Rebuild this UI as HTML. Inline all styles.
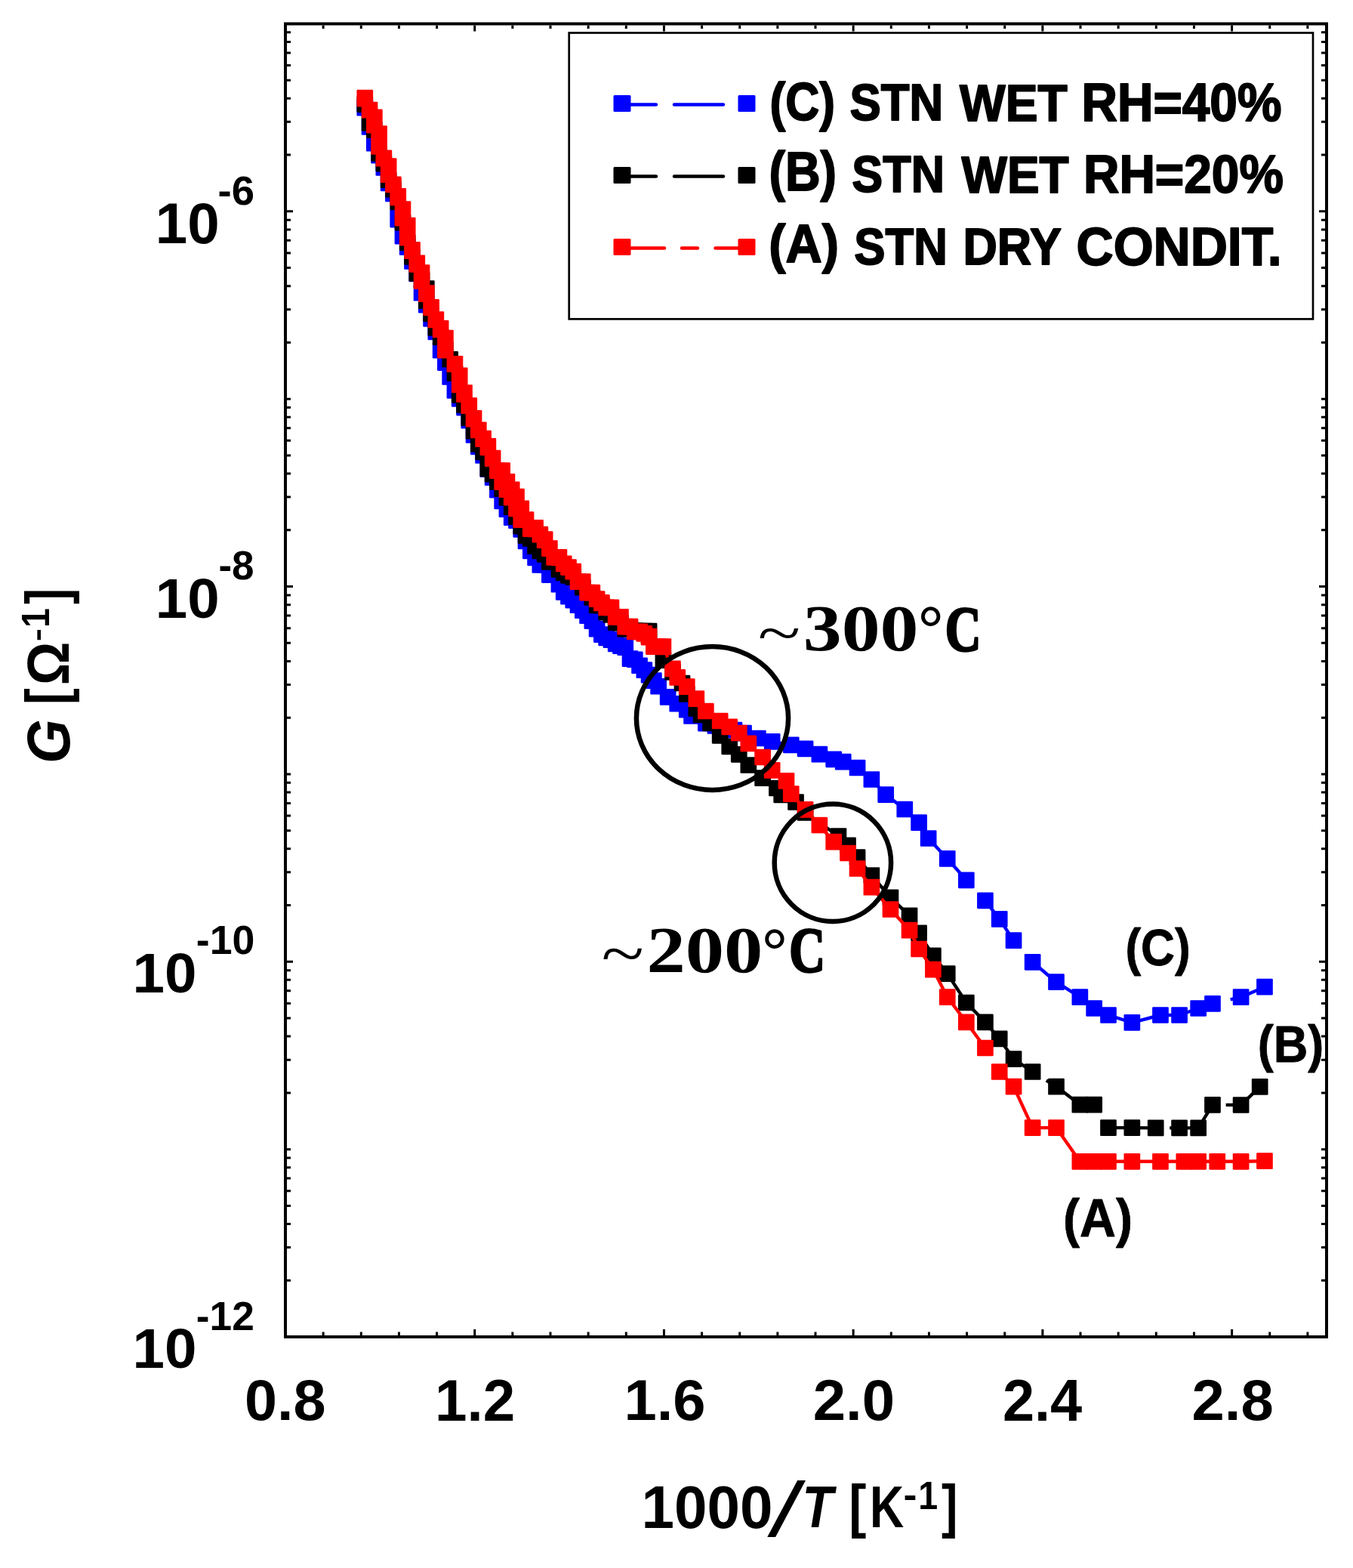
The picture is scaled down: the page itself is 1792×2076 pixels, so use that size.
<!DOCTYPE html>
<html><head><meta charset="utf-8"><title>G vs 1000/T</title>
<style>html,body{margin:0;padding:0;background:#fff}svg{display:block}</style></head>
<body><svg width="1792" height="2076" viewBox="0 0 1792 2076">
<rect width="1792" height="2076" fill="#fff"/>
<path d="M483.28 142.75L489.56 167.85L495.83 189.65L502.10 205.65L508.37 221.95L514.64 242.45L520.92 256.35L520.92 256.35L527.19 288.05L527.19 290.55L533.46 312.65L533.46 312.65L539.73 327.25L539.73 327.25L546.00 345.85L546.00 345.85L552.28 362.45L552.28 362.45L558.55 387.65L558.55 387.65L564.82 403.75L564.82 403.75L571.09 421.85L571.09 421.85L577.36 439.45L577.36 439.45L583.64 463.65L583.64 463.65L589.91 480.25L589.91 480.25L596.18 495.85L596.18 498.85L602.45 514.95L602.45 516.95L608.72 527.95L615.00 539.55L621.27 556.65L627.54 575.85L633.81 591.45L640.08 602.95L646.36 621.15L652.63 632.15L658.90 648.75L665.17 663.35L671.44 674.15L677.72 685.15L683.99 689.15L690.26 700.85L696.53 716.45L702.80 729.45L709.08 738.45L715.35 747.85L721.62 747.85L727.89 761.05L734.16 761.25L740.44 773.65L746.71 783.95L752.98 789.65L759.25 794.55L765.52 801.15L771.80 808.15L778.07 815.15L784.34 822.25L790.61 832.65L796.88 840.05L803.16 844.35L809.43 847.15L815.70 852.35L821.97 855.15L828.24 857.25L834.52 872.15L840.79 873.25L847.06 881.25L853.33 887.15L859.60 893.65L865.88 901.15L872.15 908.75L884.69 922.85L897.24 931.75L909.78 939.65L916.05 947.95L934.87 957.55L947.41 961.00L959.96 963.50L972.50 966.50L985.04 970.70L1003.86 977.50L1022.68 981.80L1047.76 986.30L1066.58 991.30L1085.40 998.60L1104.21 1005.30L1116.76 1008.60L1135.57 1016.50L1154.39 1032.00L1173.20 1052.10L1198.29 1071.50L1217.11 1089.20L1229.65 1110.00L1254.74 1136.90L1279.83 1165.30M1304.92 1192.30M1304.92 1192.30L1323.73 1216.90L1342.55 1245.20M1367.64 1273.80M1367.64 1273.80L1399.00 1300.20L1430.36 1320.20L1449.17 1335.00L1467.99 1344.00L1499.35 1353.80L1536.98 1344.00L1562.07 1344.00L1587.16 1335.00L1605.97 1328.80M1629.68 1323.38L1643.60 1320.20L1674.96 1306.70" fill="none" stroke="#0000ff" stroke-width="4.4" stroke-linejoin="round"/>
<g fill="#0000ff"><rect x="472.43" y="131.90" width="21.7" height="21.70" rx="1.3"/><rect x="478.71" y="157.00" width="21.7" height="21.70" rx="1.3"/><rect x="484.98" y="178.80" width="21.7" height="21.70" rx="1.3"/><rect x="491.25" y="194.80" width="21.7" height="21.70" rx="1.3"/><rect x="497.52" y="211.10" width="21.7" height="21.70" rx="1.3"/><rect x="503.79" y="231.60" width="21.7" height="21.70" rx="1.3"/><rect x="510.07" y="245.50" width="21.7" height="21.70" rx="1.3"/><rect x="516.34" y="277.20" width="21.7" height="24.20" rx="1.3"/><rect x="522.61" y="301.80" width="21.7" height="21.70" rx="1.3"/><rect x="528.88" y="316.40" width="21.7" height="21.70" rx="1.3"/><rect x="535.15" y="335.00" width="21.7" height="21.70" rx="1.3"/><rect x="541.43" y="351.60" width="21.7" height="21.70" rx="1.3"/><rect x="547.70" y="376.80" width="21.7" height="21.70" rx="1.3"/><rect x="553.97" y="392.90" width="21.7" height="21.70" rx="1.3"/><rect x="560.24" y="411.00" width="21.7" height="21.70" rx="1.3"/><rect x="566.51" y="428.60" width="21.7" height="21.70" rx="1.3"/><rect x="572.79" y="452.80" width="21.7" height="21.70" rx="1.3"/><rect x="579.06" y="469.40" width="21.7" height="21.70" rx="1.3"/><rect x="585.33" y="485.00" width="21.7" height="24.70" rx="1.3"/><rect x="591.60" y="504.10" width="21.7" height="23.70" rx="1.3"/><rect x="597.87" y="517.10" width="21.7" height="21.70" rx="1.3"/><rect x="604.15" y="528.70" width="21.7" height="21.70" rx="1.3"/><rect x="610.42" y="545.80" width="21.7" height="21.70" rx="1.3"/><rect x="616.69" y="565.00" width="21.7" height="21.70" rx="1.3"/><rect x="622.96" y="580.60" width="21.7" height="21.70" rx="1.3"/><rect x="629.23" y="592.10" width="21.7" height="21.70" rx="1.3"/><rect x="635.51" y="610.30" width="21.7" height="21.70" rx="1.3"/><rect x="641.78" y="621.30" width="21.7" height="21.70" rx="1.3"/><rect x="648.05" y="637.90" width="21.7" height="21.70" rx="1.3"/><rect x="654.32" y="652.50" width="21.7" height="21.70" rx="1.3"/><rect x="660.59" y="663.30" width="21.7" height="21.70" rx="1.3"/><rect x="666.87" y="674.30" width="21.7" height="21.70" rx="1.3"/><rect x="673.14" y="678.30" width="21.7" height="21.70" rx="1.3"/><rect x="679.41" y="690.00" width="21.7" height="21.70" rx="1.3"/><rect x="685.68" y="705.60" width="21.7" height="21.70" rx="1.3"/><rect x="691.95" y="718.60" width="21.7" height="21.70" rx="1.3"/><rect x="698.23" y="727.60" width="21.7" height="21.70" rx="1.3"/><rect x="704.50" y="737.00" width="21.7" height="21.70" rx="1.3"/><rect x="710.77" y="737.00" width="21.7" height="21.70" rx="1.3"/><rect x="717.04" y="750.20" width="21.7" height="21.70" rx="1.3"/><rect x="723.31" y="750.40" width="21.7" height="21.70" rx="1.3"/><rect x="729.59" y="762.80" width="21.7" height="21.70" rx="1.3"/><rect x="735.86" y="773.10" width="21.7" height="21.70" rx="1.3"/><rect x="742.13" y="778.80" width="21.7" height="21.70" rx="1.3"/><rect x="748.40" y="783.70" width="21.7" height="21.70" rx="1.3"/><rect x="754.67" y="790.30" width="21.7" height="21.70" rx="1.3"/><rect x="760.95" y="797.30" width="21.7" height="21.70" rx="1.3"/><rect x="767.22" y="804.30" width="21.7" height="21.70" rx="1.3"/><rect x="773.49" y="811.40" width="21.7" height="21.70" rx="1.3"/><rect x="779.76" y="821.80" width="21.7" height="21.70" rx="1.3"/><rect x="786.03" y="829.20" width="21.7" height="21.70" rx="1.3"/><rect x="792.31" y="833.50" width="21.7" height="21.70" rx="1.3"/><rect x="798.58" y="836.30" width="21.7" height="21.70" rx="1.3"/><rect x="804.85" y="841.50" width="21.7" height="21.70" rx="1.3"/><rect x="811.12" y="844.30" width="21.7" height="21.70" rx="1.3"/><rect x="817.39" y="846.40" width="21.7" height="21.70" rx="1.3"/><rect x="823.67" y="861.30" width="21.7" height="21.70" rx="1.3"/><rect x="829.94" y="862.40" width="21.7" height="21.70" rx="1.3"/><rect x="836.21" y="870.40" width="21.7" height="21.70" rx="1.3"/><rect x="842.48" y="876.30" width="21.7" height="21.70" rx="1.3"/><rect x="848.75" y="882.80" width="21.7" height="21.70" rx="1.3"/><rect x="855.03" y="890.30" width="21.7" height="21.70" rx="1.3"/><rect x="861.30" y="897.90" width="21.7" height="21.70" rx="1.3"/><rect x="873.84" y="912.00" width="21.7" height="21.70" rx="1.3"/><rect x="886.39" y="920.90" width="21.7" height="21.70" rx="1.3"/><rect x="898.93" y="928.80" width="21.7" height="21.70" rx="1.3"/><rect x="905.20" y="937.10" width="21.7" height="21.70" rx="1.3"/><rect x="924.02" y="946.70" width="21.7" height="21.70" rx="1.3"/><rect x="936.56" y="950.15" width="21.7" height="21.70" rx="1.3"/><rect x="949.11" y="952.65" width="21.7" height="21.70" rx="1.3"/><rect x="961.65" y="955.65" width="21.7" height="21.70" rx="1.3"/><rect x="974.19" y="959.85" width="21.7" height="21.70" rx="1.3"/><rect x="993.01" y="966.65" width="21.7" height="21.70" rx="1.3"/><rect x="1011.83" y="970.95" width="21.7" height="21.70" rx="1.3"/><rect x="1036.91" y="975.45" width="21.7" height="21.70" rx="1.3"/><rect x="1055.73" y="980.45" width="21.7" height="21.70" rx="1.3"/><rect x="1074.55" y="987.75" width="21.7" height="21.70" rx="1.3"/><rect x="1093.36" y="994.45" width="21.7" height="21.70" rx="1.3"/><rect x="1105.91" y="997.75" width="21.7" height="21.70" rx="1.3"/><rect x="1124.72" y="1005.65" width="21.7" height="21.70" rx="1.3"/><rect x="1143.54" y="1021.15" width="21.7" height="21.70" rx="1.3"/><rect x="1162.35" y="1041.25" width="21.7" height="21.70" rx="1.3"/><rect x="1187.44" y="1060.65" width="21.7" height="21.70" rx="1.3"/><rect x="1206.26" y="1078.35" width="21.7" height="21.70" rx="1.3"/><rect x="1218.80" y="1099.15" width="21.7" height="21.70" rx="1.3"/><rect x="1243.89" y="1126.05" width="21.7" height="21.70" rx="1.3"/><rect x="1268.98" y="1154.45" width="21.7" height="21.70" rx="1.3"/><rect x="1294.07" y="1181.45" width="21.7" height="21.70" rx="1.3"/><rect x="1312.88" y="1206.05" width="21.7" height="21.70" rx="1.3"/><rect x="1331.70" y="1234.35" width="21.7" height="21.70" rx="1.3"/><rect x="1356.79" y="1262.95" width="21.7" height="21.70" rx="1.3"/><rect x="1388.15" y="1289.35" width="21.7" height="21.70" rx="1.3"/><rect x="1419.51" y="1309.35" width="21.7" height="21.70" rx="1.3"/><rect x="1438.32" y="1324.15" width="21.7" height="21.70" rx="1.3"/><rect x="1457.14" y="1333.15" width="21.7" height="21.70" rx="1.3"/><rect x="1488.50" y="1342.95" width="21.7" height="21.70" rx="1.3"/><rect x="1526.13" y="1333.15" width="21.7" height="21.70" rx="1.3"/><rect x="1551.22" y="1333.15" width="21.7" height="21.70" rx="1.3"/><rect x="1576.31" y="1324.15" width="21.7" height="21.70" rx="1.3"/><rect x="1595.12" y="1317.95" width="21.7" height="21.70" rx="1.3"/><rect x="1632.75" y="1309.35" width="21.7" height="21.70" rx="1.3"/><rect x="1664.11" y="1295.85" width="21.7" height="21.70" rx="1.3"/></g>
<path d="M483.28 138.15L489.56 162.85L495.83 172.15L502.10 203.15L508.37 216.55L514.64 238.25L520.92 250.75L527.19 267.35L527.19 267.35L533.46 294.55L533.46 294.55L539.73 321.25L539.73 321.25L546.00 339.85L546.00 339.85L552.28 361.95L552.28 361.95L558.55 371.15L558.55 371.15L564.82 382.15L564.82 398.15L571.09 415.35L571.09 415.35L577.36 433.95L577.36 433.95L583.64 446.45L583.64 446.45L589.91 463.15L589.91 463.15L596.18 475.75L596.18 475.75L602.45 494.25L602.45 494.25L608.72 522.95L615.00 536.05L621.27 553.15L627.54 570.75L633.81 587.85L640.08 598.45L646.36 613.15L646.36 620.55L652.63 627.65L658.90 638.15L665.17 647.25L671.44 658.85L677.72 671.15L683.99 684.15L690.26 696.65L696.53 708.85L696.53 709.15L702.80 712.95L709.08 721.05L709.08 723.25L715.35 727.75L715.35 729.35L721.62 733.85L727.89 743.95L734.16 743.95L740.44 753.95L746.71 758.45L752.98 761.85L759.25 764.05L771.80 777.75L784.34 790.85L790.61 801.35L796.88 801.35L803.16 810.55L809.43 813.85L815.70 824.15L821.97 824.95L828.24 832.65L834.52 832.95L840.79 835.15L847.06 835.55L853.33 835.55L853.33 837.15L859.60 835.55L859.60 842.15L878.42 874.15L890.96 889.90L903.51 904.50L909.78 919.00L922.32 938.00L928.60 946.50L941.14 957.50L953.68 973.80L966.23 988.30L978.77 998.80L991.32 1013.00L1010.13 1030.10L1028.95 1043.50L1035.22 1052.50L1054.04 1062.00L1066.58 1076.00L1110.48 1107.00L1123.03 1119.40L1135.57 1135.00L1154.39 1159.00L1179.48 1188.30L1204.56 1212.40L1217.11 1235.30L1235.92 1265.40L1254.74 1289.20L1279.83 1327.50L1304.92 1353.40L1323.73 1375.40L1342.55 1402.10L1367.64 1419.00M1385.82 1430.37L1399.00 1438.60L1430.36 1462.60L1449.17 1462.60M1467.99 1493.10M1467.99 1493.10L1499.35 1493.10L1530.71 1493.40M1549.21 1493.40L1562.07 1493.40L1587.16 1493.40L1605.97 1462.80M1623.66 1462.89L1643.60 1463.00L1668.69 1438.90" fill="none" stroke="#000000" stroke-width="4.4" stroke-linejoin="round"/>
<g fill="#000000"><rect x="472.43" y="127.30" width="21.7" height="21.70" rx="1.3"/><rect x="478.71" y="152.00" width="21.7" height="21.70" rx="1.3"/><rect x="484.98" y="161.30" width="21.7" height="21.70" rx="1.3"/><rect x="491.25" y="192.30" width="21.7" height="21.70" rx="1.3"/><rect x="497.52" y="205.70" width="21.7" height="21.70" rx="1.3"/><rect x="503.79" y="227.40" width="21.7" height="21.70" rx="1.3"/><rect x="510.07" y="239.90" width="21.7" height="21.70" rx="1.3"/><rect x="516.34" y="256.50" width="21.7" height="21.70" rx="1.3"/><rect x="522.61" y="283.70" width="21.7" height="21.70" rx="1.3"/><rect x="528.88" y="310.40" width="21.7" height="21.70" rx="1.3"/><rect x="535.15" y="329.00" width="21.7" height="21.70" rx="1.3"/><rect x="541.43" y="351.10" width="21.7" height="21.70" rx="1.3"/><rect x="547.70" y="360.30" width="21.7" height="21.70" rx="1.3"/><rect x="553.97" y="371.30" width="21.7" height="37.70" rx="1.3"/><rect x="560.24" y="404.50" width="21.7" height="21.70" rx="1.3"/><rect x="566.51" y="423.10" width="21.7" height="21.70" rx="1.3"/><rect x="572.79" y="435.60" width="21.7" height="21.70" rx="1.3"/><rect x="579.06" y="452.30" width="21.7" height="21.70" rx="1.3"/><rect x="585.33" y="464.90" width="21.7" height="21.70" rx="1.3"/><rect x="591.60" y="483.40" width="21.7" height="21.70" rx="1.3"/><rect x="597.87" y="512.10" width="21.7" height="21.70" rx="1.3"/><rect x="604.15" y="525.20" width="21.7" height="21.70" rx="1.3"/><rect x="610.42" y="542.30" width="21.7" height="21.70" rx="1.3"/><rect x="616.69" y="559.90" width="21.7" height="21.70" rx="1.3"/><rect x="622.96" y="577.00" width="21.7" height="21.70" rx="1.3"/><rect x="629.23" y="587.60" width="21.7" height="21.70" rx="1.3"/><rect x="635.51" y="602.30" width="21.7" height="29.10" rx="1.3"/><rect x="641.78" y="616.80" width="21.7" height="21.70" rx="1.3"/><rect x="648.05" y="627.30" width="21.7" height="21.70" rx="1.3"/><rect x="654.32" y="636.40" width="21.7" height="21.70" rx="1.3"/><rect x="660.59" y="648.00" width="21.7" height="21.70" rx="1.3"/><rect x="666.87" y="660.30" width="21.7" height="21.70" rx="1.3"/><rect x="673.14" y="673.30" width="21.7" height="21.70" rx="1.3"/><rect x="679.41" y="685.80" width="21.7" height="21.70" rx="1.3"/><rect x="685.68" y="698.00" width="21.7" height="22.00" rx="1.3"/><rect x="691.95" y="702.10" width="21.7" height="21.70" rx="1.3"/><rect x="698.23" y="710.20" width="21.7" height="23.90" rx="1.3"/><rect x="704.50" y="716.90" width="21.7" height="23.30" rx="1.3"/><rect x="710.77" y="723.00" width="21.7" height="21.70" rx="1.3"/><rect x="717.04" y="733.10" width="21.7" height="21.70" rx="1.3"/><rect x="723.31" y="733.10" width="21.7" height="21.70" rx="1.3"/><rect x="729.59" y="743.10" width="21.7" height="21.70" rx="1.3"/><rect x="735.86" y="747.60" width="21.7" height="21.70" rx="1.3"/><rect x="742.13" y="751.00" width="21.7" height="21.70" rx="1.3"/><rect x="748.40" y="753.20" width="21.7" height="21.70" rx="1.3"/><rect x="760.95" y="766.90" width="21.7" height="21.70" rx="1.3"/><rect x="773.49" y="780.00" width="21.7" height="21.70" rx="1.3"/><rect x="779.76" y="790.50" width="21.7" height="21.70" rx="1.3"/><rect x="786.03" y="790.50" width="21.7" height="21.70" rx="1.3"/><rect x="792.31" y="799.70" width="21.7" height="21.70" rx="1.3"/><rect x="798.58" y="803.00" width="21.7" height="21.70" rx="1.3"/><rect x="804.85" y="813.30" width="21.7" height="21.70" rx="1.3"/><rect x="811.12" y="814.10" width="21.7" height="21.70" rx="1.3"/><rect x="817.39" y="821.80" width="21.7" height="21.70" rx="1.3"/><rect x="823.67" y="822.10" width="21.7" height="21.70" rx="1.3"/><rect x="829.94" y="824.30" width="21.7" height="21.70" rx="1.3"/><rect x="836.21" y="824.70" width="21.7" height="21.70" rx="1.3"/><rect x="842.48" y="824.70" width="21.7" height="23.30" rx="1.3"/><rect x="848.75" y="824.70" width="21.7" height="28.30" rx="1.3"/><rect x="867.57" y="863.30" width="21.7" height="21.70" rx="1.3"/><rect x="880.11" y="879.05" width="21.7" height="21.70" rx="1.3"/><rect x="892.66" y="893.65" width="21.7" height="21.70" rx="1.3"/><rect x="898.93" y="908.15" width="21.7" height="21.70" rx="1.3"/><rect x="911.47" y="927.15" width="21.7" height="21.70" rx="1.3"/><rect x="917.75" y="935.65" width="21.7" height="21.70" rx="1.3"/><rect x="930.29" y="946.65" width="21.7" height="21.70" rx="1.3"/><rect x="942.83" y="962.95" width="21.7" height="21.70" rx="1.3"/><rect x="955.38" y="977.45" width="21.7" height="21.70" rx="1.3"/><rect x="967.92" y="987.95" width="21.7" height="21.70" rx="1.3"/><rect x="980.47" y="1002.15" width="21.7" height="21.70" rx="1.3"/><rect x="999.28" y="1019.25" width="21.7" height="21.70" rx="1.3"/><rect x="1018.10" y="1032.65" width="21.7" height="21.70" rx="1.3"/><rect x="1024.37" y="1041.65" width="21.7" height="21.70" rx="1.3"/><rect x="1043.19" y="1051.15" width="21.7" height="21.70" rx="1.3"/><rect x="1055.73" y="1065.15" width="21.7" height="21.70" rx="1.3"/><rect x="1099.63" y="1096.15" width="21.7" height="21.70" rx="1.3"/><rect x="1112.18" y="1108.55" width="21.7" height="21.70" rx="1.3"/><rect x="1124.72" y="1124.15" width="21.7" height="21.70" rx="1.3"/><rect x="1143.54" y="1148.15" width="21.7" height="21.70" rx="1.3"/><rect x="1168.63" y="1177.45" width="21.7" height="21.70" rx="1.3"/><rect x="1193.71" y="1201.55" width="21.7" height="21.70" rx="1.3"/><rect x="1206.26" y="1224.45" width="21.7" height="21.70" rx="1.3"/><rect x="1225.07" y="1254.55" width="21.7" height="21.70" rx="1.3"/><rect x="1243.89" y="1278.35" width="21.7" height="21.70" rx="1.3"/><rect x="1268.98" y="1316.65" width="21.7" height="21.70" rx="1.3"/><rect x="1294.07" y="1342.55" width="21.7" height="21.70" rx="1.3"/><rect x="1312.88" y="1364.55" width="21.7" height="21.70" rx="1.3"/><rect x="1331.70" y="1391.25" width="21.7" height="21.70" rx="1.3"/><rect x="1356.79" y="1408.15" width="21.7" height="21.70" rx="1.3"/><rect x="1388.15" y="1427.75" width="21.7" height="21.70" rx="1.3"/><rect x="1419.51" y="1451.75" width="21.7" height="21.70" rx="1.3"/><rect x="1438.32" y="1451.75" width="21.7" height="21.70" rx="1.3"/><rect x="1457.14" y="1482.25" width="21.7" height="21.70" rx="1.3"/><rect x="1488.50" y="1482.25" width="21.7" height="21.70" rx="1.3"/><rect x="1519.86" y="1482.55" width="21.7" height="21.70" rx="1.3"/><rect x="1551.22" y="1482.55" width="21.7" height="21.70" rx="1.3"/><rect x="1576.31" y="1482.55" width="21.7" height="21.70" rx="1.3"/><rect x="1595.12" y="1451.95" width="21.7" height="21.70" rx="1.3"/><rect x="1632.75" y="1452.15" width="21.7" height="21.70" rx="1.3"/><rect x="1657.84" y="1428.05" width="21.7" height="21.70" rx="1.3"/></g>
<path d="M483.28 129.65L483.28 130.55L489.56 145.55L489.56 145.65L495.83 155.25L495.83 165.75L502.10 177.05L502.10 193.85L508.37 209.25L508.37 209.75L514.64 220.15L514.64 231.15L520.92 244.45L527.19 259.95L527.19 261.35L533.46 277.05L533.46 288.55L539.73 298.65L539.73 314.65L546.00 330.85L546.00 332.25L552.28 348.45L552.28 349.85L558.55 361.05L558.55 372.05L564.82 388.15L564.82 389.15L571.09 406.85L571.09 407.25L577.36 423.15L577.36 423.35L583.64 434.95L583.64 436.45L589.91 447.55L589.91 463.65L602.45 481.75L602.45 482.15L608.72 497.35L608.72 509.35L615.00 520.05L615.00 521.95L621.27 537.15L627.54 553.75L627.54 554.65L633.81 569.35L640.08 580.65L640.08 581.15L646.36 590.95L646.36 592.45L652.63 606.55L652.63 607.05L658.90 623.15L665.17 623.15L665.17 638.15L671.44 637.75L671.44 648.15L677.72 648.35L677.72 658.75L683.99 657.55L683.99 673.35L690.26 673.25L690.26 688.15L696.53 688.05L696.53 688.15L702.80 698.95L702.80 700.15L709.08 698.95L709.08 700.35L715.35 707.55L721.62 714.05L721.62 715.15L727.89 726.05L734.16 737.95L740.44 737.95L740.44 738.35L746.71 746.35L752.98 751.05L759.25 756.65L759.25 756.75L765.52 770.15L771.80 770.15L778.07 784.65L784.34 784.65L790.61 793.05L796.88 797.85L796.88 798.45L803.16 804.35L809.43 804.35L809.43 804.45L815.70 816.85L821.97 816.85L821.97 817.25L828.24 829.65L834.52 829.65L840.79 836.35L847.06 836.35L853.33 838.85L859.60 842.65L859.60 843.75L865.88 856.05L872.15 856.05L878.42 856.05L878.42 856.45L890.96 885.30L897.24 896.90L909.78 909.20L922.32 925.10L934.87 941.50L953.68 954.50L966.23 962.30L978.77 970.50L991.32 984.30L1010.13 1002.50L1022.68 1019.80L1041.49 1033.80L1047.76 1051.10L1066.58 1071.80L1085.40 1092.50L1104.21 1114.60L1123.03 1129.50L1135.57 1150.00L1154.39 1174.60L1179.48 1204.00L1204.56 1231.60L1217.11 1256.50L1235.92 1283.60L1254.74 1320.20L1279.83 1353.40L1304.92 1387.50M1323.73 1419.00M1323.73 1419.00L1342.55 1438.60L1367.64 1493.10L1399.00 1493.10L1430.36 1537.80L1449.17 1537.80L1467.99 1537.80L1499.35 1537.80L1536.98 1537.80L1568.34 1537.80L1587.16 1537.80L1612.24 1537.80L1643.60 1537.80L1674.96 1537.20" fill="none" stroke="#ff0000" stroke-width="4.4" stroke-linejoin="round"/>
<g fill="#ff0000"><rect x="472.43" y="118.80" width="21.7" height="22.60" rx="1.3"/><rect x="478.71" y="134.70" width="21.7" height="21.80" rx="1.3"/><rect x="484.98" y="144.40" width="21.7" height="32.20" rx="1.3"/><rect x="491.25" y="166.20" width="21.7" height="38.50" rx="1.3"/><rect x="497.52" y="198.40" width="21.7" height="22.20" rx="1.3"/><rect x="503.79" y="209.30" width="21.7" height="32.70" rx="1.3"/><rect x="510.07" y="233.60" width="21.7" height="21.70" rx="1.3"/><rect x="516.34" y="249.10" width="21.7" height="23.10" rx="1.3"/><rect x="522.61" y="266.20" width="21.7" height="33.20" rx="1.3"/><rect x="528.88" y="287.80" width="21.7" height="37.70" rx="1.3"/><rect x="535.15" y="320.00" width="21.7" height="23.10" rx="1.3"/><rect x="541.43" y="337.60" width="21.7" height="23.10" rx="1.3"/><rect x="547.70" y="350.20" width="21.7" height="32.70" rx="1.3"/><rect x="553.97" y="377.30" width="21.7" height="22.70" rx="1.3"/><rect x="560.24" y="396.00" width="21.7" height="22.10" rx="1.3"/><rect x="566.51" y="412.30" width="21.7" height="21.90" rx="1.3"/><rect x="572.79" y="424.10" width="21.7" height="23.20" rx="1.3"/><rect x="579.06" y="436.70" width="21.7" height="37.80" rx="1.3"/><rect x="591.60" y="470.90" width="21.7" height="22.10" rx="1.3"/><rect x="597.87" y="486.50" width="21.7" height="33.70" rx="1.3"/><rect x="604.15" y="509.20" width="21.7" height="23.60" rx="1.3"/><rect x="610.42" y="526.30" width="21.7" height="21.70" rx="1.3"/><rect x="616.69" y="542.90" width="21.7" height="22.60" rx="1.3"/><rect x="622.96" y="558.50" width="21.7" height="21.70" rx="1.3"/><rect x="629.23" y="569.80" width="21.7" height="22.20" rx="1.3"/><rect x="635.51" y="580.10" width="21.7" height="23.20" rx="1.3"/><rect x="641.78" y="595.70" width="21.7" height="22.20" rx="1.3"/><rect x="648.05" y="612.30" width="21.7" height="21.70" rx="1.3"/><rect x="654.32" y="612.30" width="21.7" height="36.70" rx="1.3"/><rect x="660.59" y="626.90" width="21.7" height="32.10" rx="1.3"/><rect x="666.87" y="637.50" width="21.7" height="32.10" rx="1.3"/><rect x="673.14" y="646.70" width="21.7" height="37.50" rx="1.3"/><rect x="679.41" y="662.40" width="21.7" height="36.60" rx="1.3"/><rect x="685.68" y="677.20" width="21.7" height="21.80" rx="1.3"/><rect x="691.95" y="688.10" width="21.7" height="22.90" rx="1.3"/><rect x="698.23" y="688.10" width="21.7" height="23.10" rx="1.3"/><rect x="704.50" y="696.70" width="21.7" height="21.70" rx="1.3"/><rect x="710.77" y="703.20" width="21.7" height="22.80" rx="1.3"/><rect x="717.04" y="715.20" width="21.7" height="21.70" rx="1.3"/><rect x="723.31" y="727.10" width="21.7" height="21.70" rx="1.3"/><rect x="729.59" y="727.10" width="21.7" height="22.10" rx="1.3"/><rect x="735.86" y="735.50" width="21.7" height="21.70" rx="1.3"/><rect x="742.13" y="740.20" width="21.7" height="21.70" rx="1.3"/><rect x="748.40" y="745.80" width="21.7" height="21.80" rx="1.3"/><rect x="754.67" y="759.30" width="21.7" height="21.70" rx="1.3"/><rect x="760.95" y="759.30" width="21.7" height="21.70" rx="1.3"/><rect x="767.22" y="773.80" width="21.7" height="21.70" rx="1.3"/><rect x="773.49" y="773.80" width="21.7" height="21.70" rx="1.3"/><rect x="779.76" y="782.20" width="21.7" height="21.70" rx="1.3"/><rect x="786.03" y="787.00" width="21.7" height="22.30" rx="1.3"/><rect x="792.31" y="793.50" width="21.7" height="21.70" rx="1.3"/><rect x="798.58" y="793.50" width="21.7" height="21.80" rx="1.3"/><rect x="804.85" y="806.00" width="21.7" height="21.70" rx="1.3"/><rect x="811.12" y="806.00" width="21.7" height="22.10" rx="1.3"/><rect x="817.39" y="818.80" width="21.7" height="21.70" rx="1.3"/><rect x="823.67" y="818.80" width="21.7" height="21.70" rx="1.3"/><rect x="829.94" y="825.50" width="21.7" height="21.70" rx="1.3"/><rect x="836.21" y="825.50" width="21.7" height="21.70" rx="1.3"/><rect x="842.48" y="828.00" width="21.7" height="21.70" rx="1.3"/><rect x="848.75" y="831.80" width="21.7" height="22.80" rx="1.3"/><rect x="855.03" y="845.20" width="21.7" height="21.70" rx="1.3"/><rect x="861.30" y="845.20" width="21.7" height="21.70" rx="1.3"/><rect x="867.57" y="845.20" width="21.7" height="22.10" rx="1.3"/><rect x="880.11" y="874.45" width="21.7" height="21.70" rx="1.3"/><rect x="886.39" y="886.05" width="21.7" height="21.70" rx="1.3"/><rect x="898.93" y="898.35" width="21.7" height="21.70" rx="1.3"/><rect x="911.47" y="914.25" width="21.7" height="21.70" rx="1.3"/><rect x="924.02" y="930.65" width="21.7" height="21.70" rx="1.3"/><rect x="942.83" y="943.65" width="21.7" height="21.70" rx="1.3"/><rect x="955.38" y="951.45" width="21.7" height="21.70" rx="1.3"/><rect x="967.92" y="959.65" width="21.7" height="21.70" rx="1.3"/><rect x="980.47" y="973.45" width="21.7" height="21.70" rx="1.3"/><rect x="999.28" y="991.65" width="21.7" height="21.70" rx="1.3"/><rect x="1011.83" y="1008.95" width="21.7" height="21.70" rx="1.3"/><rect x="1030.64" y="1022.95" width="21.7" height="21.70" rx="1.3"/><rect x="1036.91" y="1040.25" width="21.7" height="21.70" rx="1.3"/><rect x="1055.73" y="1060.95" width="21.7" height="21.70" rx="1.3"/><rect x="1074.55" y="1081.65" width="21.7" height="21.70" rx="1.3"/><rect x="1093.36" y="1103.75" width="21.7" height="21.70" rx="1.3"/><rect x="1112.18" y="1118.65" width="21.7" height="21.70" rx="1.3"/><rect x="1124.72" y="1139.15" width="21.7" height="21.70" rx="1.3"/><rect x="1143.54" y="1163.75" width="21.7" height="21.70" rx="1.3"/><rect x="1168.63" y="1193.15" width="21.7" height="21.70" rx="1.3"/><rect x="1193.71" y="1220.75" width="21.7" height="21.70" rx="1.3"/><rect x="1206.26" y="1245.65" width="21.7" height="21.70" rx="1.3"/><rect x="1225.07" y="1272.75" width="21.7" height="21.70" rx="1.3"/><rect x="1243.89" y="1309.35" width="21.7" height="21.70" rx="1.3"/><rect x="1268.98" y="1342.55" width="21.7" height="21.70" rx="1.3"/><rect x="1294.07" y="1376.65" width="21.7" height="21.70" rx="1.3"/><rect x="1312.88" y="1408.15" width="21.7" height="21.70" rx="1.3"/><rect x="1331.70" y="1427.75" width="21.7" height="21.70" rx="1.3"/><rect x="1356.79" y="1482.25" width="21.7" height="21.70" rx="1.3"/><rect x="1388.15" y="1482.25" width="21.7" height="21.70" rx="1.3"/><rect x="1419.51" y="1526.95" width="21.7" height="21.70" rx="1.3"/><rect x="1438.32" y="1526.95" width="21.7" height="21.70" rx="1.3"/><rect x="1457.14" y="1526.95" width="21.7" height="21.70" rx="1.3"/><rect x="1488.50" y="1526.95" width="21.7" height="21.70" rx="1.3"/><rect x="1526.13" y="1526.95" width="21.7" height="21.70" rx="1.3"/><rect x="1557.49" y="1526.95" width="21.7" height="21.70" rx="1.3"/><rect x="1576.31" y="1526.95" width="21.7" height="21.70" rx="1.3"/><rect x="1601.39" y="1526.95" width="21.7" height="21.70" rx="1.3"/><rect x="1632.75" y="1526.95" width="21.7" height="21.70" rx="1.3"/><rect x="1664.11" y="1526.35" width="21.7" height="21.70" rx="1.3"/></g>
<path d="M428.14 1768.00V1763.50M428.14 33.50V38.00M478.29 1768.00V1763.50M478.29 33.50V38.00M528.43 1768.00V1763.50M528.43 33.50V38.00M578.58 1768.00V1763.50M578.58 33.50V38.00M628.72 1768.00V1760.00M628.72 33.50V41.50M678.86 1768.00V1763.50M678.86 33.50V38.00M729.01 1768.00V1763.50M729.01 33.50V38.00M779.15 1768.00V1763.50M779.15 33.50V38.00M829.30 1768.00V1763.50M829.30 33.50V38.00M879.44 1768.00V1760.00M879.44 33.50V41.50M929.58 1768.00V1763.50M929.58 33.50V38.00M979.73 1768.00V1763.50M979.73 33.50V38.00M1029.87 1768.00V1763.50M1029.87 33.50V38.00M1080.02 1768.00V1763.50M1080.02 33.50V38.00M1130.16 1768.00V1760.00M1130.16 33.50V41.50M1180.30 1768.00V1763.50M1180.30 33.50V38.00M1230.45 1768.00V1763.50M1230.45 33.50V38.00M1280.59 1768.00V1763.50M1280.59 33.50V38.00M1330.74 1768.00V1763.50M1330.74 33.50V38.00M1380.88 1768.00V1760.00M1380.88 33.50V41.50M1431.02 1768.00V1763.50M1431.02 33.50V38.00M1481.17 1768.00V1763.50M1481.17 33.50V38.00M1531.31 1768.00V1763.50M1531.31 33.50V38.00M1581.46 1768.00V1763.50M1581.46 33.50V38.00M1631.60 1768.00V1760.00M1631.60 33.50V41.50M1681.74 1768.00V1763.50M1681.74 33.50V38.00M1731.89 1768.00V1763.50M1731.89 33.50V38.00M380.00 1695.24H385.00M1755.00 1695.24H1750.00M380.00 1651.50H385.00M1755.00 1651.50H1750.00M380.00 1620.47H385.00M1755.00 1620.47H1750.00M380.00 1596.40H385.00M1755.00 1596.40H1750.00M380.00 1576.74H385.00M1755.00 1576.74H1750.00M380.00 1560.11H385.00M1755.00 1560.11H1750.00M380.00 1545.71H385.00M1755.00 1545.71H1750.00M380.00 1533.01H385.00M1755.00 1533.01H1750.00M380.00 1521.64H385.00M1755.00 1521.64H1750.00M380.00 1446.88H385.00M1755.00 1446.88H1750.00M380.00 1403.15H385.00M1755.00 1403.15H1750.00M380.00 1372.12H385.00M1755.00 1372.12H1750.00M380.00 1348.05H385.00M1755.00 1348.05H1750.00M380.00 1328.38H385.00M1755.00 1328.38H1750.00M380.00 1311.76H385.00M1755.00 1311.76H1750.00M380.00 1297.35H385.00M1755.00 1297.35H1750.00M380.00 1284.65H385.00M1755.00 1284.65H1750.00M380.00 1273.29H388.00M1755.00 1273.29H1747.00M380.00 1198.52H385.00M1755.00 1198.52H1750.00M380.00 1154.79H385.00M1755.00 1154.79H1750.00M380.00 1123.76H385.00M1755.00 1123.76H1750.00M380.00 1099.69H385.00M1755.00 1099.69H1750.00M380.00 1080.03H385.00M1755.00 1080.03H1750.00M380.00 1063.40H385.00M1755.00 1063.40H1750.00M380.00 1049.00H385.00M1755.00 1049.00H1750.00M380.00 1036.29H385.00M1755.00 1036.29H1750.00M380.00 1024.93H385.00M1755.00 1024.93H1750.00M380.00 950.17H385.00M1755.00 950.17H1750.00M380.00 906.43H385.00M1755.00 906.43H1750.00M380.00 875.40H385.00M1755.00 875.40H1750.00M380.00 851.33H385.00M1755.00 851.33H1750.00M380.00 831.67H385.00M1755.00 831.67H1750.00M380.00 815.04H385.00M1755.00 815.04H1750.00M380.00 800.64H385.00M1755.00 800.64H1750.00M380.00 787.94H385.00M1755.00 787.94H1750.00M380.00 776.57H388.00M1755.00 776.57H1747.00M380.00 701.81H385.00M1755.00 701.81H1750.00M380.00 658.07H385.00M1755.00 658.07H1750.00M380.00 627.05H385.00M1755.00 627.05H1750.00M380.00 602.98H385.00M1755.00 602.98H1750.00M380.00 583.31H385.00M1755.00 583.31H1750.00M380.00 566.68H385.00M1755.00 566.68H1750.00M380.00 552.28H385.00M1755.00 552.28H1750.00M380.00 539.58H385.00M1755.00 539.58H1750.00M380.00 528.21H385.00M1755.00 528.21H1750.00M380.00 453.45H385.00M1755.00 453.45H1750.00M380.00 409.72H385.00M1755.00 409.72H1750.00M380.00 378.69H385.00M1755.00 378.69H1750.00M380.00 354.62H385.00M1755.00 354.62H1750.00M380.00 334.95H385.00M1755.00 334.95H1750.00M380.00 318.33H385.00M1755.00 318.33H1750.00M380.00 303.93H385.00M1755.00 303.93H1750.00M380.00 291.22H385.00M1755.00 291.22H1750.00M380.00 279.86H388.00M1755.00 279.86H1747.00M380.00 205.09H385.00M1755.00 205.09H1750.00M380.00 161.36H385.00M1755.00 161.36H1750.00M380.00 130.33H385.00M1755.00 130.33H1750.00M380.00 106.26H385.00M1755.00 106.26H1750.00M380.00 86.60H385.00M1755.00 86.60H1750.00M380.00 69.97H385.00M1755.00 69.97H1750.00M380.00 55.57H385.00M1755.00 55.57H1750.00M380.00 42.86H385.00M1755.00 42.86H1750.00" stroke="#000" stroke-width="3" fill="none"/>
<rect x="378" y="31.5" width="1379" height="1738.5" fill="none" stroke="#000" stroke-width="4"/>
<rect x="753.7" y="43.5" width="985.3" height="378.9" fill="#fff" stroke="#000" stroke-width="2.7"/>
<line x1="834" y1="138.5" x2="869" y2="138.5" stroke="#0000ff" stroke-width="4.4" stroke-linecap="round"/>
<line x1="893" y1="138.5" x2="958" y2="138.5" stroke="#0000ff" stroke-width="4.4" stroke-linecap="round"/>
<rect x="812.5" y="126" width="23" height="22" rx="1.5" fill="#0000ff"/>
<rect x="977.5" y="126" width="23" height="22" rx="1.5" fill="#0000ff"/>
<line x1="834" y1="233.5" x2="869" y2="233.5" stroke="#000000" stroke-width="4.4" stroke-linecap="round"/>
<line x1="893" y1="233.5" x2="958" y2="233.5" stroke="#000000" stroke-width="4.4" stroke-linecap="round"/>
<rect x="812.5" y="221" width="23" height="22" rx="1.5" fill="#000000"/>
<rect x="977.5" y="221" width="23" height="22" rx="1.5" fill="#000000"/>
<line x1="834" y1="328.5" x2="880" y2="328.5" stroke="#ff0000" stroke-width="4.4" stroke-linecap="round"/>
<line x1="903" y1="328.5" x2="924" y2="328.5" stroke="#ff0000" stroke-width="4.4" stroke-linecap="round"/>
<line x1="947.5" y1="328.5" x2="980" y2="328.5" stroke="#ff0000" stroke-width="4.4" stroke-linecap="round"/>
<rect x="812.5" y="316" width="23" height="22" rx="1.5" fill="#ff0000"/>
<rect x="977.5" y="316" width="23" height="22" rx="1.5" fill="#ff0000"/>
<ellipse cx="943.5" cy="951" rx="100.6" ry="95" fill="none" stroke="#000" stroke-width="6.5"/>
<ellipse cx="1102.9" cy="1142.2" rx="77.2" ry="77.8" fill="none" stroke="#000" stroke-width="6.5"/>
<g transform="matrix(0.76337 0 0 0.75493 205.720 321.845)"><text x="0" y="0" font-family="'Liberation Sans', sans-serif" font-size="100" font-weight="bold" font-style="normal" >10</text></g>
<g transform="matrix(0.54568 0 0 0.53803 288.617 271.062)"><text x="0" y="0" font-family="'Liberation Sans', sans-serif" font-size="100" font-weight="bold" font-style="normal" >-6</text></g>
<g transform="matrix(0.76337 0 0 0.74648 205.720 817.854)"><text x="0" y="0" font-family="'Liberation Sans', sans-serif" font-size="100" font-weight="bold" font-style="normal" >10</text></g>
<g transform="matrix(0.53049 0 0 0.52958 289.378 767.070)"><text x="0" y="0" font-family="'Liberation Sans', sans-serif" font-size="100" font-weight="bold" font-style="normal" >-8</text></g>
<g transform="matrix(0.76436 0 0 0.74648 175.514 1313.854)"><text x="0" y="0" font-family="'Liberation Sans', sans-serif" font-size="100" font-weight="bold" font-style="normal" >10</text></g>
<g transform="matrix(0.53676 0 0 0.52958 259.853 1263.070)"><text x="0" y="0" font-family="'Liberation Sans', sans-serif" font-size="100" font-weight="bold" font-style="normal" >-10</text></g>
<g transform="matrix(0.76436 0 0 0.74648 175.514 1811.254)"><text x="0" y="0" font-family="'Liberation Sans', sans-serif" font-size="100" font-weight="bold" font-style="normal" >10</text></g>
<g transform="matrix(0.53285 0 0 0.52857 259.869 1761.000)"><text x="0" y="0" font-family="'Liberation Sans', sans-serif" font-size="100" font-weight="bold" font-style="normal" >-12</text></g>
<g transform="matrix(0.77348 0 0 0.76056 323.906 1880.239)"><text x="0" y="0" font-family="'Liberation Sans', sans-serif" font-size="100" font-weight="bold" font-style="normal" >0.8</text></g>
<g transform="matrix(0.76434 0 0 0.77143 575.914 1881.000)"><text x="0" y="0" font-family="'Liberation Sans', sans-serif" font-size="100" font-weight="bold" font-style="normal" >1.2</text></g>
<g transform="matrix(0.77829 0 0 0.76056 826.430 1880.239)"><text x="0" y="0" font-family="'Liberation Sans', sans-serif" font-size="100" font-weight="bold" font-style="normal" >1.6</text></g>
<g transform="matrix(0.78030 0 0 0.76056 1076.659 1880.239)"><text x="0" y="0" font-family="'Liberation Sans', sans-serif" font-size="100" font-weight="bold" font-style="normal" >2.0</text></g>
<g transform="matrix(0.75735 0 0 0.77143 1327.928 1881.000)"><text x="0" y="0" font-family="'Liberation Sans', sans-serif" font-size="100" font-weight="bold" font-style="normal" >2.4</text></g>
<g transform="matrix(0.77895 0 0 0.76056 1578.463 1880.239)"><text x="0" y="0" font-family="'Liberation Sans', sans-serif" font-size="100" font-weight="bold" font-style="normal" >2.8</text></g>
<g transform="matrix(0.78302 0 0 0.78873 849.402 2023.011)"><text x="0" y="0" font-family="'Liberation Sans', sans-serif" font-size="100" font-weight="bold" font-style="normal" >1000</text></g>
<g transform="matrix(0.95769 0 0 0.91098 1025.419 2027.101)"><text x="0" y="0" font-family="'DejaVu Sans', sans-serif" font-size="100" font-weight="bold" font-style="oblique" >/</text></g>
<g transform="matrix(0.66885 0 0 0.77536 1062.618 2022.400)"><text x="0" y="0" font-family="'Liberation Sans', sans-serif" font-size="100" font-weight="bold" font-style="italic" >T</text></g>
<g transform="matrix(0.69615 0 0 0.77872 1124.323 2021.147)"><text x="0" y="0" font-family="'Liberation Sans', sans-serif" font-size="100" font-weight="bold" font-style="normal" >[</text></g>
<g transform="matrix(0.62500 0 0 0.77536 1152.025 2022.400)"><text x="0" y="0" font-family="'Liberation Sans', sans-serif" font-size="100" font-weight="bold" font-style="normal" >K</text></g>
<g transform="matrix(0.54000 0 0 0.50000 1196.540 1996.200)"><text x="0" y="0" font-family="'Liberation Sans', sans-serif" font-size="100" font-weight="bold" font-style="normal" >-</text></g>
<g transform="matrix(0.46596 0 0 0.52464 1216.204 1997.500)"><text x="0" y="0" font-family="'Liberation Sans', sans-serif" font-size="100" font-weight="bold" font-style="normal" >1</text></g>
<g transform="matrix(0.64444 0 0 0.77872 1247.056 2021.147)"><text x="0" y="0" font-family="'Liberation Sans', sans-serif" font-size="100" font-weight="bold" font-style="normal" >]</text></g>
<g transform="matrix(0 -0.75507 0.79577 0 91.904 1010.875)"><text x="0" y="0" font-family="'Liberation Sans', sans-serif" font-size="100" font-weight="bold" font-style="italic" >G</text></g>
<g transform="matrix(0 -0.65769 0.78191 0 89.280 932.946)"><text x="0" y="0" font-family="'Liberation Sans', sans-serif" font-size="100" font-weight="bold" font-style="normal" >[</text></g>
<g transform="matrix(0 -0.71944 0.78571 0 91.300 907.178)"><text x="0" y="0" font-family="'Liberation Sans', sans-serif" font-size="100" font-weight="bold" font-style="normal" >Ω</text></g>
<g transform="matrix(0 -0.52000 0.39167 0 61.533 849.180)"><text x="0" y="0" font-family="'Liberation Sans', sans-serif" font-size="100" font-weight="bold" font-style="normal" >-</text></g>
<g transform="matrix(0 -0.46170 0.52464 0 65.300 831.070)"><text x="0" y="0" font-family="'Liberation Sans', sans-serif" font-size="100" font-weight="bold" font-style="normal" >1</text></g>
<g transform="matrix(0 -0.62963 0.78191 0 89.380 799.930)"><text x="0" y="0" font-family="'Liberation Sans', sans-serif" font-size="100" font-weight="bold" font-style="normal" >]</text></g>
<g transform="matrix(0.62326 0 0 0.70957 1019.484 159.499)"><text stroke="#000" stroke-width="2.70" stroke-linejoin="round" x="0" y="0" font-family="'Liberation Sans', sans-serif" font-size="100" font-weight="bold" font-style="normal" >(C)</text></g>
<g transform="matrix(0.61895 0 0 0.67746 1125.443 159.123)"><text stroke="#000" stroke-width="2.78" stroke-linejoin="round" x="0" y="0" font-family="'Liberation Sans', sans-serif" font-size="100" font-weight="bold" font-style="normal" >STN</text></g>
<g transform="matrix(0.64253 0 0 0.68551 1271.000 159.500)"><text stroke="#000" stroke-width="2.71" stroke-linejoin="round" x="0" y="0" font-family="'Liberation Sans', sans-serif" font-size="100" font-weight="bold" font-style="normal" >WET</text></g>
<g transform="matrix(0.65776 0 0 0.70141 1432.396 159.999)"><text stroke="#000" stroke-width="2.65" stroke-linejoin="round" x="0" y="0" font-family="'Liberation Sans', sans-serif" font-size="100" font-weight="bold" font-style="normal" >RH=40%</text></g>
<g transform="matrix(0.64574 0 0 0.73085 1018.471 252.052)"><text stroke="#000" stroke-width="2.62" stroke-linejoin="round" x="0" y="0" font-family="'Liberation Sans', sans-serif" font-size="100" font-weight="bold" font-style="normal" >(B)</text></g>
<g transform="matrix(0.61368 0 0 0.69014 1128.359 253.910)"><text stroke="#000" stroke-width="2.76" stroke-linejoin="round" x="0" y="0" font-family="'Liberation Sans', sans-serif" font-size="100" font-weight="bold" font-style="normal" >STN</text></g>
<g transform="matrix(0.64027 0 0 0.68551 1273.500 254.500)"><text stroke="#000" stroke-width="2.72" stroke-linejoin="round" x="0" y="0" font-family="'Liberation Sans', sans-serif" font-size="100" font-weight="bold" font-style="normal" >WET</text></g>
<g transform="matrix(0.65776 0 0 0.70704 1434.896 255.393)"><text stroke="#000" stroke-width="2.64" stroke-linejoin="round" x="0" y="0" font-family="'Liberation Sans', sans-serif" font-size="100" font-weight="bold" font-style="normal" >RH=20%</text></g>
<g transform="matrix(0.66822 0 0 0.70957 1018.359 347.399)"><text stroke="#000" stroke-width="2.61" stroke-linejoin="round" x="0" y="0" font-family="'Liberation Sans', sans-serif" font-size="100" font-weight="bold" font-style="normal" >(A)</text></g>
<g transform="matrix(0.61842 0 0 0.69155 1131.345 349.808)"><text stroke="#000" stroke-width="2.75" stroke-linejoin="round" x="0" y="0" font-family="'Liberation Sans', sans-serif" font-size="100" font-weight="bold" font-style="normal" >STN</text></g>
<g transform="matrix(0.62915 0 0 0.68551 1275.396 350.100)"><text stroke="#000" stroke-width="2.74" stroke-linejoin="round" x="0" y="0" font-family="'Liberation Sans', sans-serif" font-size="100" font-weight="bold" font-style="normal" >DRY</text></g>
<g transform="matrix(0.68072 0 0 0.70000 1425.477 350.600)"><text stroke="#000" stroke-width="2.61" stroke-linejoin="round" x="0" y="0" font-family="'Liberation Sans', sans-serif" font-size="100" font-weight="bold" font-style="normal" >CONDIT.</text></g>
<g transform="matrix(1.04375 0 0 0.78824 1003.869 864.218)"><text x="0" y="0" font-family="'Liberation Serif', serif" font-size="100" font-weight="normal" font-style="normal" >~</text></g>
<g transform="matrix(1.01901 0 0 0.86866 1063.724 861.463)"><text x="0" y="0" font-family="'Liberation Serif', serif" font-size="100" font-weight="bold" font-style="normal" >300</text></g>
<g transform="matrix(0.83667 0 0 0.83667 1216.017 860.320)"><text x="0" y="0" font-family="'Liberation Serif', serif" font-size="100" font-weight="bold" font-style="normal" >°</text></g>
<g transform="matrix(0.66167 0 0 0.85455 1251.692 861.645)"><text stroke="#000" stroke-width="3.43" stroke-linejoin="round" x="0" y="0" font-family="'Liberation Serif', serif" font-size="100" font-weight="bold" font-style="normal" >C</text></g>
<g transform="matrix(1.04375 0 0 0.84118 796.569 1290.888)"><text x="0" y="0" font-family="'Liberation Serif', serif" font-size="100" font-weight="normal" font-style="normal" >~</text></g>
<g transform="matrix(1.02676 0 0 0.86716 856.393 1286.766)"><text x="0" y="0" font-family="'Liberation Serif', serif" font-size="100" font-weight="bold" font-style="normal" >200</text></g>
<g transform="matrix(0.83667 0 0 0.83667 1009.217 1286.520)"><text x="0" y="0" font-family="'Liberation Serif', serif" font-size="100" font-weight="bold" font-style="normal" >°</text></g>
<g transform="matrix(0.66167 0 0 0.85152 1045.192 1287.248)"><text stroke="#000" stroke-width="3.44" stroke-linejoin="round" x="0" y="0" font-family="'Liberation Serif', serif" font-size="100" font-weight="bold" font-style="normal" >C</text></g>
<g transform="matrix(0.62248 0 0 0.69149 1490.388 1278.379)"><text stroke="#000" stroke-width="1.22" stroke-linejoin="round" x="0" y="0" font-family="'Liberation Sans', sans-serif" font-size="100" font-weight="bold" font-style="normal" >(C)</text></g>
<g transform="matrix(0.63101 0 0 0.67979 1665.645 1405.724)"><text stroke="#000" stroke-width="1.22" stroke-linejoin="round" x="0" y="0" font-family="'Liberation Sans', sans-serif" font-size="100" font-weight="bold" font-style="normal" >(B)</text></g>
<g transform="matrix(0.66279 0 0 0.70106 1407.986 1636.578)"><text stroke="#000" stroke-width="1.17" stroke-linejoin="round" x="0" y="0" font-family="'Liberation Sans', sans-serif" font-size="100" font-weight="bold" font-style="normal" >(A)</text></g>
</svg></body></html>
